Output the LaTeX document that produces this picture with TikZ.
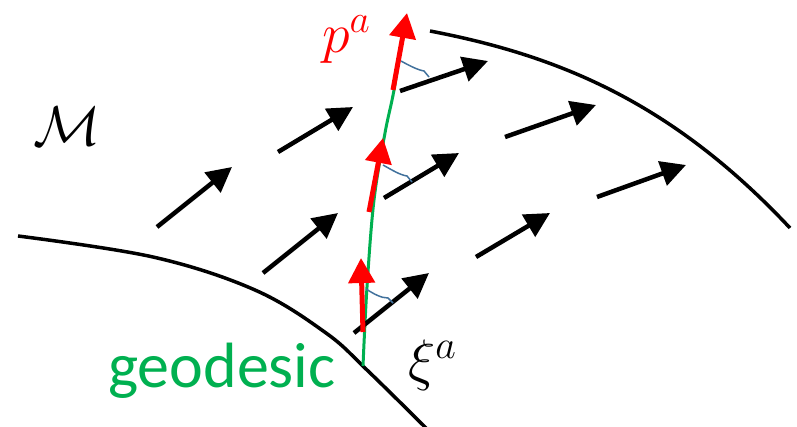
\RequirePackage{fix-cm}
\documentclass[tikz,border=0pt]{standalone}
\usepackage{fontspec}
\newfontfamily\calibri{Carlito}
\usetikzlibrary{arrows.meta}
\definecolor{geogreen}{HTML}{00B050}
\definecolor{angblue}{HTML}{41719C}
\tikzset{
 surf/.style={line width=3.5pt, black},
 geo/.style={line width=3pt, geogreen},
 pvec/.style={line width=5pt, red, -{Triangle[length=25pt,width=26pt]}},
 xivec/.style={line width=4.5pt, black, -{Triangle[length=25pt,width=25pt]}},
 anglemark/.style={line width=1.5pt, angblue},
 lbl/.style={inner sep=0pt}
}
\begin{document}
\begin{tikzpicture}[x=1pt,y=-1pt]
\useasboundingbox (0,0) rectangle (797,427);
% boundary curves
\draw[surf] plot[smooth, tension=0.6] coordinates {(18,236) (153,257) (255,290) (326,333) (367,370) (428,430)};
\draw[surf] (430,31) .. controls (555,55) and (670,100) .. (790,228);
% geodesic
\draw[geo] plot[smooth, tension=0.6] coordinates {(363,366) (367,287) (374,200) (385,133) (394,90) (402,37)};
% xi vectors
\coordinate (t1) at (157,227); \coordinate (h1) at (232,167);
\coordinate (t2) at (278,152); \coordinate (h2) at (353,107);
\coordinate (t3) at (263,273); \coordinate (h3) at (338,213);
\coordinate (t4) at (505,137); \coordinate (h4) at (596,105);
\coordinate (t5) at (476,257); \coordinate (h5) at (550,213);
\coordinate (t6) at (597,197); \coordinate (h6) at (686,165);
\coordinate (t7) at (400,91);  \coordinate (h7) at (488,61);
\coordinate (t8) at (384,198); \coordinate (h8) at (459,153);
\coordinate (t9) at (354,333); \coordinate (h9) at (429,273);
\foreach \i in {1,...,9} { \draw[xivec] (t\i) -- (h\i); }
% p vectors
\coordinate (pt1) at (393,90);  \coordinate (ph1) at (407,13);
\coordinate (pt2) at (369,212); \coordinate (ph2) at (383,138);
\coordinate (pt3) at (363,332); \coordinate (ph3) at (361,258);
\foreach \i in {1,2,3} { \draw[pvec] (pt\i) -- (ph\i); }
% angle marks
\coordinate (a1s) at (401,61);  \coordinate (a1e) at (429,77);
\coordinate (a2s) at (383,165); \coordinate (a2e) at (412,182);
\coordinate (a3s) at (366,289); \coordinate (a3e) at (393,303);
\draw[anglemark] (a1s) .. controls (410,66) and (418,70) .. (424,71) -- (a1e);
\draw[anglemark] (a2s) .. controls (392,170) and (400,175) .. (407,176) -- (a2e);
\draw[anglemark] (a3s) .. controls (374,294) and (381,298) .. (388,298) -- (a3e);
% labels
\node[lbl, anchor=base west, text=red, font=\fontsize{56}{56}\selectfont] (plabel) at (322,53) {$p^a$};
\node[lbl, anchor=base west, font=\fontsize{57}{57}\selectfont] (xilabel) at (408,379) {$\xi^a$};
\node[lbl, anchor=center, font=\fontsize{56}{56}\selectfont] (mlabel) at (67,126) {$\mathcal{M}$};
\node[lbl, anchor=base west, text=geogreen, font=\calibri\fontsize{64}{64}\selectfont] (geolabel) at (108,387) {geodesic};
\end{tikzpicture}
\end{document}
